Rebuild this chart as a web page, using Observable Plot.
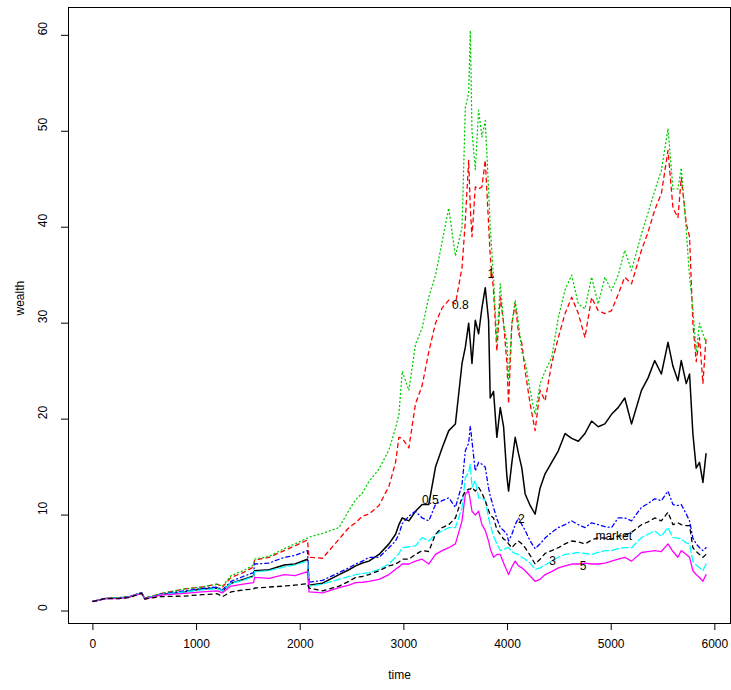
<!DOCTYPE html>
<html>
<head>
<meta charset="utf-8">
<script src="https://cdn.jsdelivr.net/npm/d3@7"></script>
<script src="https://cdn.jsdelivr.net/npm/@observablehq/plot@0.6"></script>
<style>
  html, body { margin: 0; padding: 0; background: #fff; }
  #chart { width: 731px; height: 690px; }
</style>
</head>
<body>
<div id="chart"></div>
<script>
const times = [0,120,250,350,470,500,650,885,1050,1200,1250,1333,1450,1550,1560,1700,1846,1950,2070,2085,
  2215,2375,2470,2535,2600,2663,2760,2856,2920,2952,2984,3048,3112,3176,3240,3305,3369,3433,3497,3561,
  3593,3625,3641,3657,3689,3721,3753,3785,3817,3833,3865,3897,3930,3962,3994,4010,4042,4074,4106,4138,
  4170,4218,4266,4314,4362,4426,4490,4555,4619,4683,4747,4811,4875,4939,5003,5067,5131,5196,5292,5356,
  5420,5484,5548,5596,5644,5676,5724,5756,5788,5820,5852,5885,5915];

const wealthBlack = [1.0,1.3,1.35,1.45,1.9,1.3,1.7,2.0,2.3,2.4,2.1,2.9,3.3,3.65,4.2,4.3,4.8,4.9,5.4,2.7,
  2.9,3.8,4.3,4.7,5.0,5.2,5.9,7.0,8.0,9.0,9.7,9.4,10.4,11.1,11.1,15.0,17.0,18.8,19.5,25.8,
  27.5,30.0,28.0,25.8,30.3,28.9,31.6,33.7,30.3,22.2,22.9,18.1,21.2,19.2,14.0,12.5,15.5,18.1,16.4,14.9,
  12.2,11.0,10.1,12.8,14.3,15.5,16.7,18.5,18.0,17.7,18.5,19.8,19.2,19.5,20.5,21.2,22.2,19.5,23.0,24.3,
  26.1,24.7,28.0,25.5,24.0,26.1,23.7,24.7,18.5,14.9,15.5,13.4,16.4];

const wealthRed = [1.0,1.3,1.4,1.5,1.9,1.35,1.8,2.3,2.5,2.8,2.5,3.5,4.0,4.6,5.3,5.6,6.3,6.8,7.4,5.6,
  5.5,7.5,8.7,9.2,9.9,10.1,11.0,13.0,15.5,18.1,18.0,17.0,21.6,23.5,27.0,30.0,31.6,32.4,32.0,35.8,
  40.7,47.0,42.0,39.0,44.2,44.0,44.2,47.0,40.4,37.0,33.4,27.1,32.7,30.0,25.8,21.6,30.0,32.0,29.0,27.9,
  25.0,21.6,18.8,23.0,21.9,25.8,28.5,31.0,32.7,31.0,28.5,32.7,31.3,31.0,31.3,33.0,34.8,34.1,37.6,39.5,
  41.8,43.5,48.0,42.0,41.0,45.2,40.4,39.0,30.0,26.0,28.5,23.7,28.5];

const wealthGreen = [1.0,1.3,1.4,1.5,1.9,1.35,1.8,2.3,2.5,2.8,2.6,3.7,4.2,4.8,5.4,5.7,6.5,7.0,7.6,7.7,
  8.1,8.7,10.5,11.6,12.3,13.5,14.8,16.8,19.1,20.5,25.0,23.0,27.8,29.5,32.7,35.0,38.5,42.0,37.0,40.0,
  52.5,54.0,60.5,50.0,46.0,52.2,49.4,51.1,44.0,40.0,34.8,28.0,34.1,30.0,28.0,24.0,30.0,32.4,30.0,27.0,
  26.0,23.0,20.5,23.7,25.0,26.4,30.6,33.5,35.0,32.0,31.5,34.8,32.0,34.8,33.4,35.0,37.6,35.5,39.3,41.5,
  43.8,45.9,50.3,44.0,44.0,46.2,39.7,34.8,31.6,27.0,30.0,28.9,27.9];

const wealthBlue = [1.0,1.3,1.35,1.5,1.9,1.3,1.75,2.1,2.35,2.5,2.2,3.1,3.6,4.0,4.9,5.0,5.6,5.8,6.3,3.0,
  3.2,4.0,4.5,4.9,5.2,5.6,5.6,6.6,7.3,8.0,9.1,9.9,10.4,9.7,9.4,11.1,11.5,11.8,10.8,13.2,
  16.7,17.5,19.3,17.7,14.6,15.5,15.3,15.0,12.8,12.0,10.8,9.6,8.7,8.4,8.0,7.3,8.0,9.0,9.7,9.0,
  8.4,7.3,6.5,7.0,7.6,8.2,8.7,9.0,9.4,9.0,8.7,9.2,9.0,8.8,8.7,9.7,9.7,9.4,10.8,11.2,
  11.7,11.5,12.5,11.1,11.0,11.1,10.1,9.4,7.6,7.0,6.6,6.3,6.6];

const wealthCyan = [1.0,1.3,1.35,1.45,1.9,1.3,1.7,2.0,2.2,2.35,2.1,2.9,3.2,3.6,4.1,4.2,4.6,4.8,5.2,2.6,
  2.8,3.3,3.6,3.8,3.9,4.0,4.35,4.9,5.6,6.0,6.6,6.7,6.8,7.65,7.3,8.0,8.35,8.7,8.7,10.8,
  13.9,14.5,15.3,12.9,13.6,11.8,11.8,11.5,9.7,9.0,7.8,7.0,6.3,6.4,6.6,6.6,6.2,6.0,5.9,5.6,
  5.4,5.0,4.35,4.5,4.8,5.2,5.6,5.9,6.0,6.1,6.0,5.9,6.1,6.3,6.3,6.5,6.6,6.6,7.65,8.0,
  8.35,7.8,8.7,7.65,7.6,7.5,7.1,7.0,5.2,4.8,4.5,4.2,4.9];

const wealthMagenta = [1.0,1.3,1.3,1.45,1.85,1.25,1.65,1.85,2.0,2.1,1.9,2.6,2.8,2.95,3.5,3.4,3.8,3.7,4.1,2.0,
  1.9,2.45,2.7,2.95,3.0,3.1,3.3,3.8,4.35,4.6,4.9,4.9,5.2,5.4,4.9,5.9,6.3,6.6,7.0,9.4,
  12.2,12.5,11.5,10.4,10.0,10.4,9.0,8.4,7.3,6.5,5.6,5.9,5.9,5.0,4.2,3.8,4.6,5.2,4.7,4.5,
  4.2,3.65,3.1,3.3,3.8,4.1,4.5,4.7,4.9,4.9,5.0,4.9,4.9,5.0,5.2,5.4,5.6,5.2,6.1,6.2,
  6.3,6.2,7.0,6.2,5.6,6.3,5.9,5.6,4.2,3.8,3.5,3.1,3.8];

const wealthMarket = [1.0,1.3,1.3,1.4,1.85,1.25,1.5,1.56,1.7,1.8,1.5,2.0,2.2,2.3,2.4,2.5,2.6,2.7,2.85,2.4,
  2.1,2.6,3.1,3.5,3.6,3.8,4.2,4.7,4.9,5.1,5.4,5.4,5.9,6.3,6.2,8.0,8.7,9.0,9.7,11.8,
  12.5,12.7,12.7,12.9,12.5,12.9,12.3,11.5,10.5,10.0,9.7,8.5,8.0,7.5,7.3,7.0,6.6,7.0,7.3,7.0,
  6.6,5.8,4.9,5.4,6.0,6.3,6.6,7.0,7.3,7.2,7.0,7.4,7.65,7.6,7.5,7.8,7.9,8.2,9.0,9.3,
  9.7,9.4,10.3,9.0,9.2,9.0,8.9,8.9,6.6,6.2,5.9,5.6,5.9];

const labelText   = ["0.8", "1", "0.5", "2", "3", "5", "market"];
const labelTime   = [3545, 3840, 3256, 4134, 4434, 4728, 5025];
const labelWealth = [31.9, 35.1, 11.6, 9.6, 5.2, 4.7, 7.8];

const xTicks = [0, 1000, 2000, 3000, 4000, 5000, 6000];
const yTicks = [0, 10, 20, 30, 40, 50, 60];

const seriesList = [
  {values: wealthBlack,   color: "#000000", dash: null,      width: 1.5},
  {values: wealthRed,     color: "#FF0000", dash: "4,4",     width: 1.3},
  {values: wealthGreen,   color: "#00CD00", dash: "1,3",     width: 1.3},
  {values: wealthBlue,    color: "#0000FF", dash: "1,3,4,3", width: 1.3},
  {values: wealthCyan,    color: "#00FFFF", dash: "7,3",     width: 1.3},
  {values: wealthMagenta, color: "#FF00FF", dash: null,      width: 1.3},
  {values: wealthMarket,  color: "#000000", dash: "4,4",     width: 1.3}
];

const lineMarks = seriesList.map(s => {
  const rows = times.map((t, i) => ({t, w: s.values[i]}));
  const opts = {x: "t", y: "w", stroke: s.color, strokeWidth: s.width};
  if (s.dash) opts.strokeDasharray = s.dash;
  return Plot.line(rows, opts);
});

const labels = labelText.map((txt, i) => ({txt, t: labelTime[i], w: labelWealth[i]}));

const chart = Plot.plot({
  width: 731,
  height: 690,
  marginLeft: 68,
  marginRight: 1,
  marginTop: 7,
  marginBottom: 67,
  style: {fontFamily: "'Liberation Sans', Arial, Helvetica, sans-serif", fontSize: "12px", background: "#fff", color: "#000"},
  x: {domain: [-235.5, 6151], label: null},
  y: {domain: [-1.3, 62.9], label: null},
  marks: [
    ...lineMarks,
    Plot.text(labels, {x: "t", y: "w", text: "txt", fill: "#000", fontSize: 12}),
    Plot.frame({stroke: "#000", strokeWidth: 1}),
    Plot.axisX({ticks: xTicks, tickSize: 7, tickFormat: () => "", label: null, stroke: "#000"}),
    Plot.axisY({ticks: yTicks, tickSize: 7, tickFormat: () => "", label: null, stroke: "#000"}),
    Plot.text(xTicks, {x: d => d, frameAnchor: "bottom", dy: 24, text: d => String(d), fill: "#000", fontSize: 12}),
    Plot.text(yTicks, {y: d => d, frameAnchor: "left", dx: -25, rotate: -90, text: d => String(d), fill: "#000", fontSize: 12}),
    Plot.text(["time"], {frameAnchor: "bottom", dy: 55, text: d => d, fill: "#000", fontSize: 12}),
    Plot.text(["wealth"], {frameAnchor: "left", dx: -48, rotate: -90, text: d => d, fill: "#000", fontSize: 12})
  ]
});
document.getElementById("chart").appendChild(chart);
</script>
</body>
</html>
